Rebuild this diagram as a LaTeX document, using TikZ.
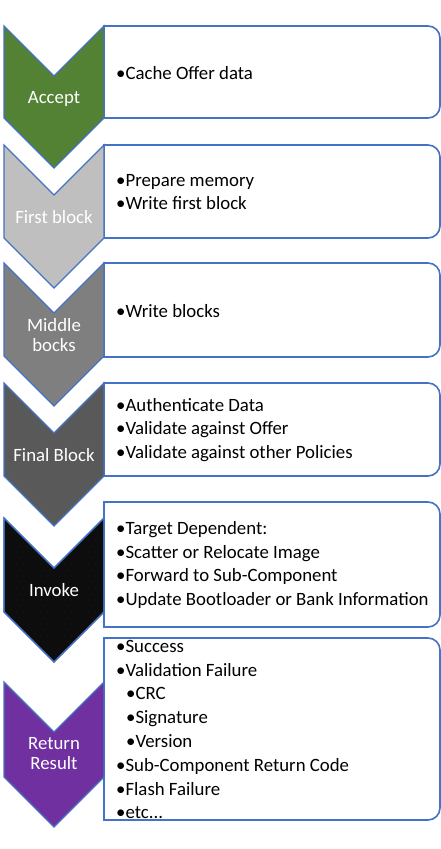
\documentclass[tikz,border=0pt]{standalone}
\usepackage{fontspec}
\setmainfont{Carlito}
\definecolor{edgeblue}{HTML}{4472C4}
\definecolor{cgreen}{HTML}{548235}
\definecolor{clight}{HTML}{BFBFBF}
\definecolor{cmid}{HTML}{7F7F7F}
\definecolor{cfinal}{HTML}{595959}
\definecolor{cinvoke}{HTML}{0D0D0D}
\definecolor{cpurple}{HTML}{7030A0}
\definecolor{cdot}{HTML}{2B3A66}
\begin{document}
\begin{tikzpicture}[x=1pt,y=-1pt,
  boxline/.style={draw=edgeblue,line width=1.6pt,fill=white},
  chev/.style={draw=edgeblue,line width=1.2pt},
  stagelabel/.style={text=white,align=center,inner sep=0pt,font=\fontsize{18.8}{20}\selectfont},
  itemtext/.style={anchor=west,align=left,inner sep=0pt,font=\fontsize{18.8}{23.8}\selectfont}]
\useasboundingbox (0,0) rectangle (441,849);
% boxes
\draw[boxline] (104,26) -- (428,26) arc[start angle=-90,end angle=0,radius=12] -- (440,106) arc[start angle=0,end angle=90,radius=12] -- (104,118) -- cycle;
\draw[boxline] (104,145) -- (428,145) arc[start angle=-90,end angle=0,radius=12] -- (440,226) arc[start angle=0,end angle=90,radius=12] -- (104,238) -- cycle;
\draw[boxline] (104,263) -- (428,263) arc[start angle=-90,end angle=0,radius=12] -- (440,345) arc[start angle=0,end angle=90,radius=12] -- (104,357) -- cycle;
\draw[boxline] (104,383) -- (428,383) arc[start angle=-90,end angle=0,radius=12] -- (440,464) arc[start angle=0,end angle=90,radius=12] -- (104,476) -- cycle;
\draw[boxline] (104,502) -- (428,502) arc[start angle=-90,end angle=0,radius=12] -- (440,615) arc[start angle=0,end angle=90,radius=12] -- (104,627) -- cycle;
\draw[boxline] (104,638) -- (428,638) arc[start angle=-90,end angle=0,radius=12] -- (440,808) arc[start angle=0,end angle=90,radius=12] -- (104,820) -- cycle;
% chevrons
\draw[chev,fill=cgreen] (4,26) -- (54,76) -- (104,26) -- (104,118) -- (54,168) -- (4,118) -- cycle;
\draw[chev,fill=clight] (4,145) -- (54,195) -- (104,145) -- (104,238) -- (54,288) -- (4,238) -- cycle;
\draw[chev,fill=cmid] (4,263) -- (54,313) -- (104,263) -- (104,356) -- (54,406) -- (4,356) -- cycle;
\draw[chev,fill=cfinal] (4,383) -- (54,433) -- (104,383) -- (104,476) -- (54,526) -- (4,476) -- cycle;
\draw[chev,fill=cinvoke] (4,518) -- (54,568) -- (104,518) -- (104,612) -- (54,662) -- (4,612) -- cycle;
\begin{scope}
\clip (4,518) -- (54,568) -- (104,518) -- (104,612) -- (54,662) -- (4,612) -- cycle;
\foreach \i in {0,...,16} {
  \foreach \j in {0,...,24} {
    \fill[cdot] ({8+6*\i+3*mod(\j,2)},{522+6*\j}) circle (0.45);
  }
}
\end{scope}
\draw[chev] (4,518) -- (54,568) -- (104,518) -- (104,612) -- (54,662) -- (4,612) -- cycle;
\draw[chev,fill=cpurple] (4,682) -- (54,732) -- (104,682) -- (104,777) -- (54,827) -- (4,777) -- cycle;
% labels
\node[stagelabel] (lAccept) at (54,98.5) {Accept};
\node[stagelabel] (lFirst) at (54,217.5) {First block};
\node[stagelabel] (lMiddle) at (54,335.5) {Middle\\bocks};
\node[stagelabel] (lFinal) at (54,455.5) {Final Block};
\node[stagelabel] (lInvoke) at (54,590.5) {Invoke};
\node[stagelabel] (lReturn) at (54,753.5) {Return\\Result};
% item texts
\node[itemtext] (tAccept) at (116,73) {•Cache Offer data};
\node[itemtext] (tFirst) at (116,192) {•Prepare memory\\•Write first block};
\node[itemtext] (tMiddle) at (116,311) {•Write blocks};
\node[itemtext] (tFinal) at (116,430) {•Authenticate Data\\•Validate against Offer\\•Validate against other Policies};
\node[itemtext] (tInvoke) at (116,565) {•Target Dependent:\\•Scatter or Relocate Image\\•Forward to Sub-Component\\•Update Bootloader or Bank Information};
\node[itemtext] (tReturn) at (116,729.5) {•Success\\•Validation Failure\\\hspace*{10pt}•CRC\\\hspace*{10pt}•Signature\\\hspace*{10pt}•Version\\•Sub-Component Return Code\\•Flash Failure\\•etc...};
\end{tikzpicture}
\end{document}
